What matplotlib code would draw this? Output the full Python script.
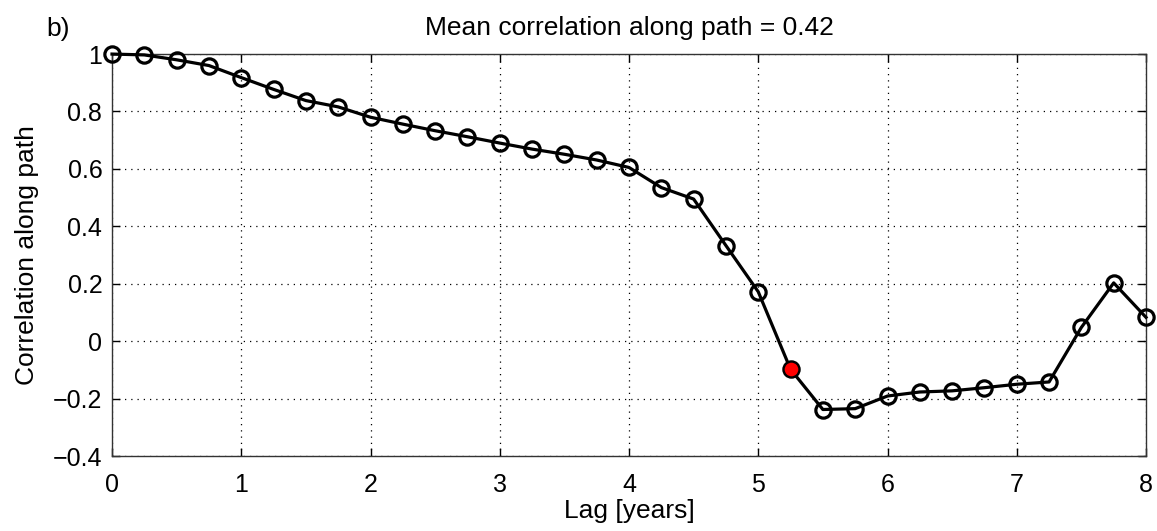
import matplotlib
matplotlib.use("Agg")
import matplotlib.pyplot as plt

lag = [0, 0.25, 0.5, 0.75, 1, 1.25, 1.5, 1.75, 2, 2.25, 2.5, 2.75, 3, 3.25, 3.5,
       3.75, 4, 4.25, 4.5, 4.75, 5, 5.25, 5.5, 5.75, 6, 6.25, 6.5, 6.75, 7,
       7.25, 7.5, 7.75, 8]
corr = [1.0, 0.997, 0.98, 0.96, 0.918, 0.877, 0.838, 0.816, 0.78, 0.756,
        0.733, 0.712, 0.69, 0.669, 0.651, 0.631, 0.605, 0.535, 0.495, 0.333,
        0.172, -0.098, -0.238, -0.235, -0.191, -0.177, -0.173, -0.162, -0.15,
        -0.142, 0.048, 0.203, 0.083]
highlight_idx = 21
xticks = [0, 1, 2, 3, 4, 5, 6, 7, 8]
yticks = [-0.4, -0.2, 0, 0.2, 0.4, 0.6, 0.8, 1.0]
yticklabels = ["\u22120.4", "\u22120.2", "0", "0.2", "0.4", "0.6", "0.8", "1"]
title = "Mean correlation along path = 0.42"

plt.rcParams['font.family'] = ['Liberation Sans', 'DejaVu Sans']

fig = plt.figure(figsize=(11.57, 5.31), dpi=100)
ax = fig.add_axes([0.0968, 0.1412, 0.8937, 0.757])

ax.plot(lag, corr, color='black', linewidth=2.3, marker='o', markersize=11,
        markerfacecolor='none', markeredgecolor='black', markeredgewidth=2.3,
        clip_on=False, zorder=3)
ax.plot([lag[highlight_idx]], [corr[highlight_idx]], marker='o', markersize=11,
        markerfacecolor='red', markeredgecolor='black', markeredgewidth=1.2,
        linestyle='none', clip_on=False, zorder=4)

ax.set_xlim(0, 8)
ax.set_ylim(-0.4, 1.0)
ax.set_xticks(xticks)
ax.set_xticklabels([str(t) for t in xticks])
ax.set_yticks(yticks)
ax.set_yticklabels(yticklabels)
ax.tick_params(direction='in', length=6, width=1, labelsize=18, colors='black',
               top=True, right=True)
ax.tick_params(axis='x', pad=12)
ax.tick_params(axis='y', pad=7)
ax.grid(True, linestyle=(0, (1, 4)), color='black', linewidth=0.9)
for s in ax.spines.values():
    s.set_linewidth(1.0)
    s.set_color('#333333')

ax.set_xlabel("Lag [years]", fontsize=19, labelpad=2)
ax.set_ylabel("Correlation along path", fontsize=19, labelpad=10)
ax.set_title(title, fontsize=19, pad=14)
fig.text(0.040, 0.945, "b)", fontsize=19, ha='left', va='center')

fig.savefig("out.png", dpi=100)
